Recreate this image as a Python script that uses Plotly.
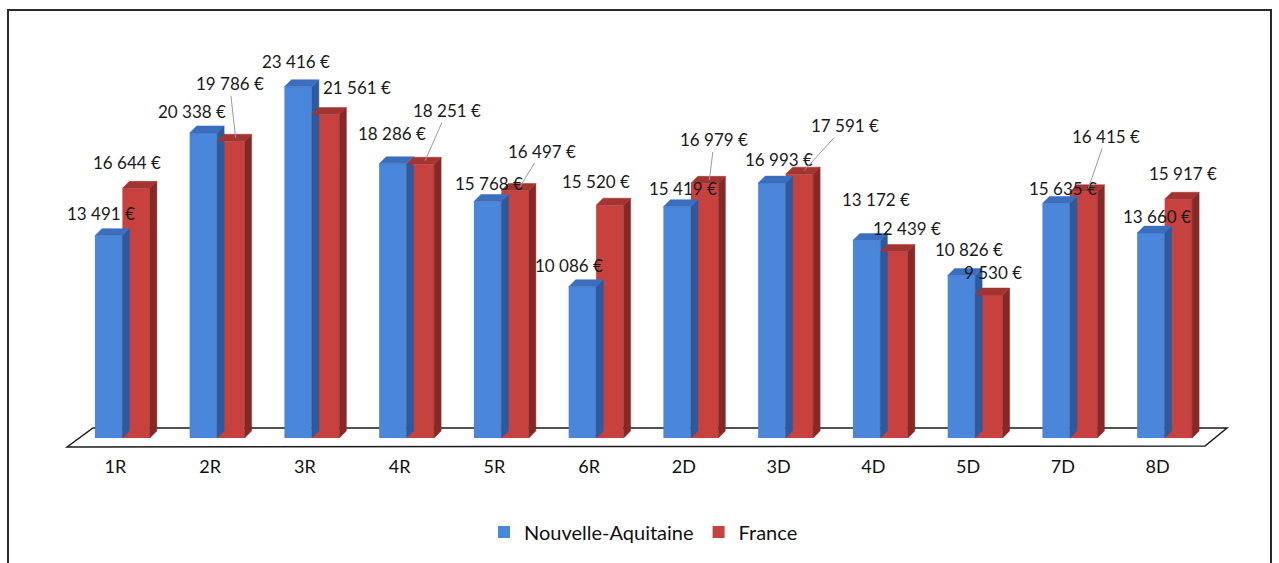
import plotly.graph_objects as go

categories = ["1R", "2R", "3R", "4R", "5R", "6R", "2D", "3D", "4D", "5D", "7D", "8D"]
nouvelle_aquitaine = [13491, 20338, 23416, 18286, 15768, 10086, 15419, 16993, 13172, 10826, 15635, 13660]
france = [16644, 19786, 21561, 18251, 16497, 15520, 16979, 17591, 12439, 9530, 16415, 15917]

# label placement (pixel offsets from the top-centre of each bar), style only
na_dx = [-8, -11, -2, -1, 1, -13, 6, 7, 9, 8, 7, 6]
na_dy = [-22, -21, -25, -30, -18, -21, -18, -24, -41, -26, -15, -17]
fr_dx = [-9, -1, 31, 27, 27, -14, 10, 46, 13, 4, 23, 5]
fr_dy = [-26, -51, -27, -47, -33, -24, -37, -42, -23, -23, -49, -26]
fr_leader = [False, True, False, True, True, False, True, True, False, False, True, False]

BW = 0.29          # bar width in category units
DDX = 7 / 94.8     # depth offset (x), category units
DDY = 7 / 0.015    # depth offset (y), euros

def fmt(v):
    s = f"{v:,}".replace(",", " ")
    return s + " €"

def faces(values, x0off, x1off):
    sx, sy, tx, ty = [], [], [], []
    for i, v in enumerate(values):
        a, b = i + x0off, i + x1off
        sx += [b, b + DDX, b + DDX, b, b, None]
        sy += [0, DDY, v + DDY, v, 0, None]
        tx += [a, a + DDX, b + DDX, b, a, None]
        ty += [v, v + DDY, v + DDY, v, v, None]
    return sx, sy, tx, ty

x = list(range(len(categories)))
fig = go.Figure()

series = [
    ("Nouvelle-Aquitaine", nouvelle_aquitaine, -BW, "#4A86DA", "#2C5A9C", "#3B6FBE"),
    ("France", france, 0.0, "#C7413F", "#862826", "#A23432"),
]
for name, vals, off, front, side, top in series:
    fig.add_trace(go.Bar(x=x, y=vals, name=name, width=BW, offset=off,
                         marker=dict(color=front, line=dict(width=0)),
                         hoverinfo="skip"))
    sx, sy, tx, ty = faces(vals, off, off + BW)
    fig.add_trace(go.Scatter(x=sx, y=sy, mode="lines", fill="toself", fillcolor=side,
                             line=dict(width=0.5, color=side), showlegend=False, hoverinfo="skip"))
    fig.add_trace(go.Scatter(x=tx, y=ty, mode="lines", fill="toself", fillcolor=top,
                             line=dict(width=0.5, color=top), showlegend=False, hoverinfo="skip"))

ann = []
FONT = "Lato, Open Sans, sans-serif"
lab_font = dict(family=FONT, size=17, color="#1a1a1a")
for i, v in enumerate(nouvelle_aquitaine):
    ann.append(dict(x=i - BW / 2, y=v, xref="x", yref="y", text=fmt(v), showarrow=False,
                    xshift=na_dx[i], yshift=-na_dy[i], font=lab_font))
for i, v in enumerate(france):
    if fr_leader[i]:
        ann.append(dict(x=i + BW / 2 + 0.05, y=v + DDY * 0.5, xref="x", yref="y", text=fmt(v),
                        showarrow=True, ax=fr_dx[i] - 5, ay=fr_dy[i] - 3, arrowhead=0,
                        arrowwidth=1, arrowcolor="#9a9a9a", standoff=0, font=lab_font))
    else:
        ann.append(dict(x=i + BW / 2, y=v, xref="x", yref="y", text=fmt(v), showarrow=False,
                        xshift=fr_dx[i], yshift=-fr_dy[i], font=lab_font))

L, R, T, B = 75, 67, 63, 110
W = 1279 - L - R
H = 563 - T - B
def px(p):
    return (p - L) / W
def py(p):
    return (563 - B - p) / H

floor = (f"M {px(67)} {py(447)} L {px(93)} {py(428)} L {px(1227)} {py(428)} "
         f"L {px(1205)} {py(446)} Z")
shapes = [
    dict(type="path", xref="paper", yref="paper", path=floor,
         line=dict(color="#1a1a1a", width=1.5), fillcolor="rgba(0,0,0,0)", layer="below"),
    dict(type="rect", xref="paper", yref="paper", x0=px(8), x1=px(1271), y0=py(580), y1=py(10),
         line=dict(color="#2a2a2a", width=2), fillcolor="rgba(0,0,0,0)"),
]

fig.update_layout(
    width=1279, height=563,
    margin=dict(l=L, r=R, t=T, b=B),
    paper_bgcolor="white", plot_bgcolor="white",
    barmode="overlay",
    showlegend=True,
    legend=dict(orientation="h", x=0.5, xanchor="center", y=py(532), yanchor="middle",
                font=dict(family=FONT, size=20, color="#111111"),
                itemwidth=30,
                itemclick=False, itemdoubleclick=False, traceorder="normal"),
    annotations=ann,
    shapes=shapes,
    xaxis=dict(range=[-0.5, 11.5], tickmode="array", tickvals=x, ticktext=categories,
               showgrid=False, zeroline=False, showline=False, ticks="",
               ticklabelshift=-7, ticklabelstandoff=1,
               tickfont=dict(family=FONT, size=18, color="#111111")),
    yaxis=dict(range=[-1000, 25000], visible=False, showgrid=False, zeroline=False),
)

fig.write_html("out.html", config={"displayModeBar": False},
               post_script="document.body.style.margin='0px';")
